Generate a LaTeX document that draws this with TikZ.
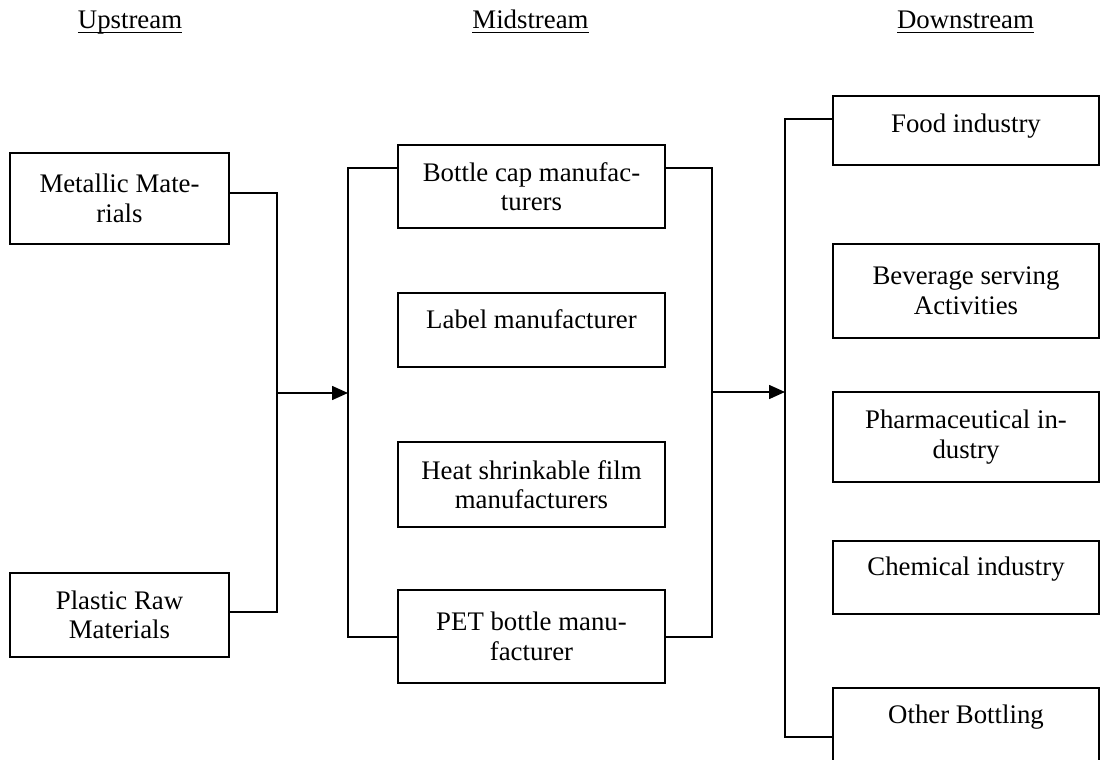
\documentclass[tikz,border=0pt]{standalone}
\usepackage{fontspec}
\setmainfont{Liberation Serif}
\usetikzlibrary{arrows.meta,calc}

\newcommand\hdrline[1]{\setbox0=\hbox{#1}\rlap{\rule[-4.5pt]{\wd0}{1.2pt}}\box0}

\tikzset{
  box/.style={draw,line width=1.6pt,inner sep=0pt,align=center},
  onerow/.style 2 args={text height=#1,text depth=#2},
  conn/.style={line width=1.6pt},
  arr/.style={conn,-{Triangle[length=16pt,width=14pt]}},
  hdr/.style={anchor=base,inner sep=0pt}
}

\begin{document}
\begin{tikzpicture}[x=1pt,y=1pt,yscale=-1,font=\fontsize{26.8}{29.5}\selectfont]
\useasboundingbox (0,0) rectangle (1101,760);

% Text Node
\node[hdr] (up) at (130,29) {\hdrline{Upstream}};
\node[hdr] (mid) at (530.5,29) {\hdrline{Midstream}};
\node[hdr] (down) at (965.5,29) {\hdrline{Downstream}};

%Shape: Rectangle
\node[box,minimum width=219pt,minimum height=91pt] (metal) at (119.5,198.5) {Metallic Mate-\\rials};
\node[box,minimum width=219pt,minimum height=84pt] (plastic) at (119.5,615) {Plastic Raw\\Materials};

%Shape: Rectangle
\node[box,minimum width=267pt,minimum height=83pt] (cap) at (531.5,186.5) {Bottle cap manufac-\\turers};
\node[box,minimum width=267pt,onerow={35pt}{39pt}] (label) at (531.5,330) {Label manufacturer};
\node[box,minimum width=267pt,minimum height=85pt] (shrink) at (531.5,484.5) {Heat shrinkable film\\manufacturers};
\node[box,minimum width=267pt,minimum height=93pt] (pet) at (531.5,636.5) {PET bottle manu-\\facturer};

%Shape: Rectangle
\node[box,minimum width=266pt,onerow={36pt}{33pt}] (food) at (966,130.5) {Food industry};
\node[box,minimum width=266pt,minimum height=94pt] (bev) at (966,291) {Beverage serving\\Activities};
\node[box,minimum width=266pt,minimum height=90pt] (pharma) at (966,437) {Pharmaceutical in-\\dustry};
\node[box,minimum width=266pt,onerow={34pt}{39pt}] (chem) at (966,577.5) {Chemical industry};
\node[box,minimum width=266pt,onerow={35pt}{38pt}] (other) at (966,724.5) {Other Bottling};

% bus points
\coordinate (lbus) at (277,393);
\coordinate (mlbus) at (348,393);
\coordinate (mrbus) at (712,392);
\coordinate (rbus) at (785,392);

%Straight Lines
\draw[conn] ($(metal.north east)+(0,41)$) -| (lbus) |- ($(plastic.north east)+(0,40)$);
\draw[arr] (lbus) -- (mlbus);
\draw[conn] ($(cap.north west)+(0,24)$) -| (mlbus) |- ($(pet.north west)+(0,48)$);
\draw[conn] ($(cap.north east)+(0,24)$) -| (mrbus) |- ($(pet.north east)+(0,48)$);
\draw[arr] (mrbus) -- (rbus);
\draw[conn] ($(food.north west)+(0,24)$) -| (rbus) |- ($(other.north west)+(0,50)$);

\end{tikzpicture}
\end{document}
